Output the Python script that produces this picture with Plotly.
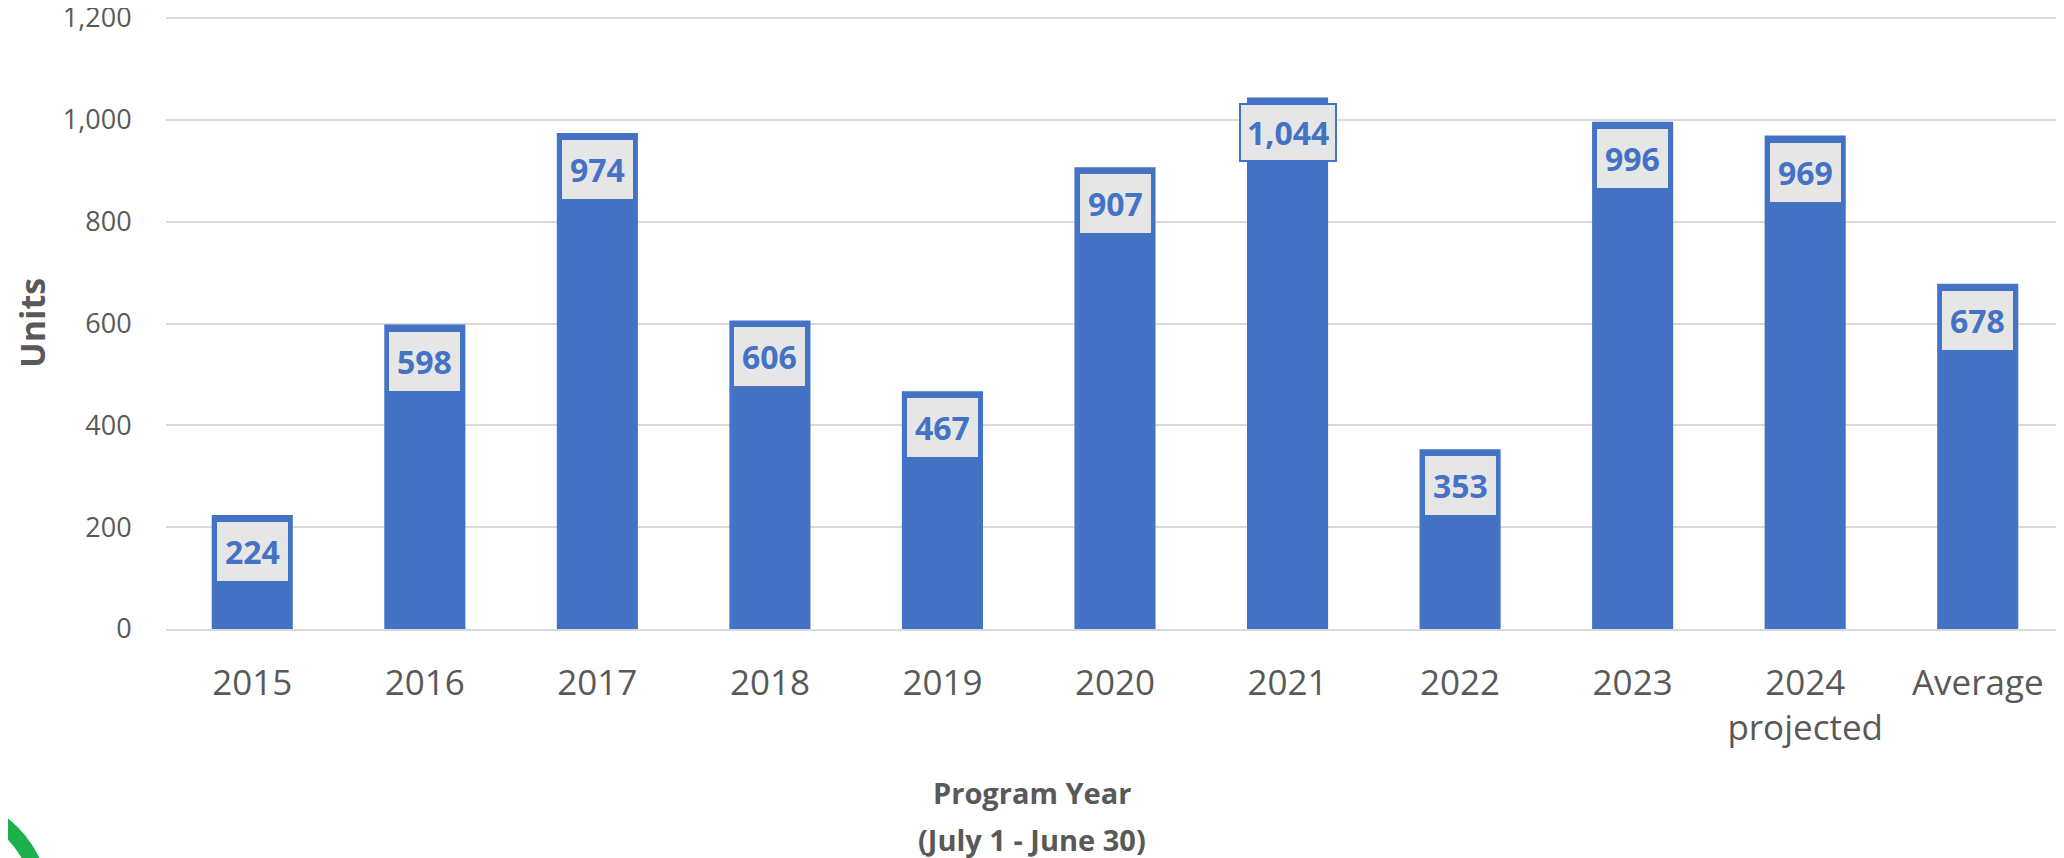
import plotly.graph_objects as go

categories = ["2015", "2016", "2017", "2018", "2019", "2020", "2021", "2022", "2023", "2024<br>projected", "Average"]
units = [224, 598, 974, 606, 467, 907, 1044, 353, 996, 969, 678]
labels = ["224", "598", "974", "606", "467", "907", "1,044", "353", "996", "969", "678"]
y_ticks = [0, 200, 400, 600, 800, 1000, 1200]
y_tick_text = ["0", "200", "400", "600", "800", "1,000", "1,200"]

# page geometry (the page body has an 8px margin)
OFF = 8
PAGE_W, PAGE_H = 2064, 858
PLOT_L, PLOT_R, PLOT_B = 166, 2064, 629      # page pixels
Y_TOP_VAL, Y_TOP_PX = 1200, 18               # 1,200 gridline position
PLOT_T = 12                                   # page pixel of plot top (a bit above 1,200)

W, H = PAGE_W - OFF, PAGE_H - OFF
L = PLOT_L - OFF
R = W - (PLOT_R - OFF)
B = H - (PLOT_B - OFF)
T = PLOT_T - OFF
scale = (PLOT_B - Y_TOP_PX) / Y_TOP_VAL
y_max = (PLOT_B - PLOT_T) / scale

BLUE = "#4472C4"
GREY_TXT = "#595959"
FONT = "Open Sans"

fig = go.Figure()
fig.add_trace(go.Bar(x=categories, y=units, marker=dict(color=BLUE, line=dict(width=0)),
                     hoverinfo="skip"))

for i, (v, t) in enumerate(zip(units, labels)):
    outside = v > 1000
    fig.add_annotation(x=i, y=v, text="<b>%s</b>" % t, showarrow=False,
                       xanchor="center", yanchor="top", yshift=-7 if not outside else -6,
                       font=dict(family=FONT, size=32, color=BLUE),
                       bgcolor="#E7E6E6", borderpad=8 if not outside else 6,
                       bordercolor=BLUE if outside else "rgba(0,0,0,0)",
                       borderwidth=2 if outside else 0)

pw = W - L - R
ph = H - T - B
def px(xp):
    return (xp - OFF - L) / pw
def py(yp):
    return (H - B - (yp - OFF)) / ph

# axis titles as annotations
fig.add_annotation(xref="paper", yref="paper", x=px(1032), y=py(793), text="<b>Program Year</b>",
                   xanchor="center", yanchor="middle",
                   showarrow=False, font=dict(family=FONT, size=29, color=GREY_TXT))
fig.add_annotation(xref="paper", yref="paper", x=px(1032), y=py(839), text="<b>(July 1 - June 30)</b>",
                   xanchor="center", yanchor="middle",
                   showarrow=False, font=dict(family=FONT, size=29, color=GREY_TXT))
fig.add_annotation(xref="paper", yref="paper", x=px(32), y=py(323), text="<b>Units</b>", textangle=-90,
                   xanchor="center", yanchor="middle",
                   showarrow=False, font=dict(family=FONT, size=34, color=GREY_TXT))

# partial green seal in the bottom-left corner
fig.add_shape(type="circle", xref="paper", yref="paper",
              x0=px(-170), x1=px(50), y0=py(1015), y1=py(795),
              fillcolor="#1DB04B", line=dict(width=0), layer="above")
fig.add_shape(type="circle", xref="paper", yref="paper",
              x0=px(-155), x1=px(35), y0=py(1000), y1=py(810),
              fillcolor="white", line=dict(width=1.5, color="#1DB04B"), layer="above")

fig.update_layout(
    width=W, height=H,
    margin=dict(l=L, r=R, t=T, b=B, pad=0, autoexpand=False),
    paper_bgcolor="white", plot_bgcolor="white",
    bargap=0.53, showlegend=False,
    font=dict(family=FONT, color=GREY_TXT),
    xaxis=dict(type="category", range=[-0.5, len(categories) - 0.5], automargin=False,
               showgrid=False, showline=True, linecolor="#D9D9D9", linewidth=1.5,
               tickfont=dict(family=FONT, size=35, color=GREY_TXT),
               ticks="outside", ticklen=22, tickcolor="rgba(0,0,0,0)"),
    yaxis=dict(range=[0, y_max], tickvals=y_ticks, ticktext=y_tick_text, automargin=False,
               showgrid=True, gridcolor="#D9D9D9", gridwidth=1.5, zeroline=False,
               ticklabeloverflow="allow",
               tickfont=dict(family=FONT, size=27, color=GREY_TXT),
               ticks="outside", ticklen=28, tickcolor="rgba(0,0,0,0)"),
)

fig.write_html("out.html")
